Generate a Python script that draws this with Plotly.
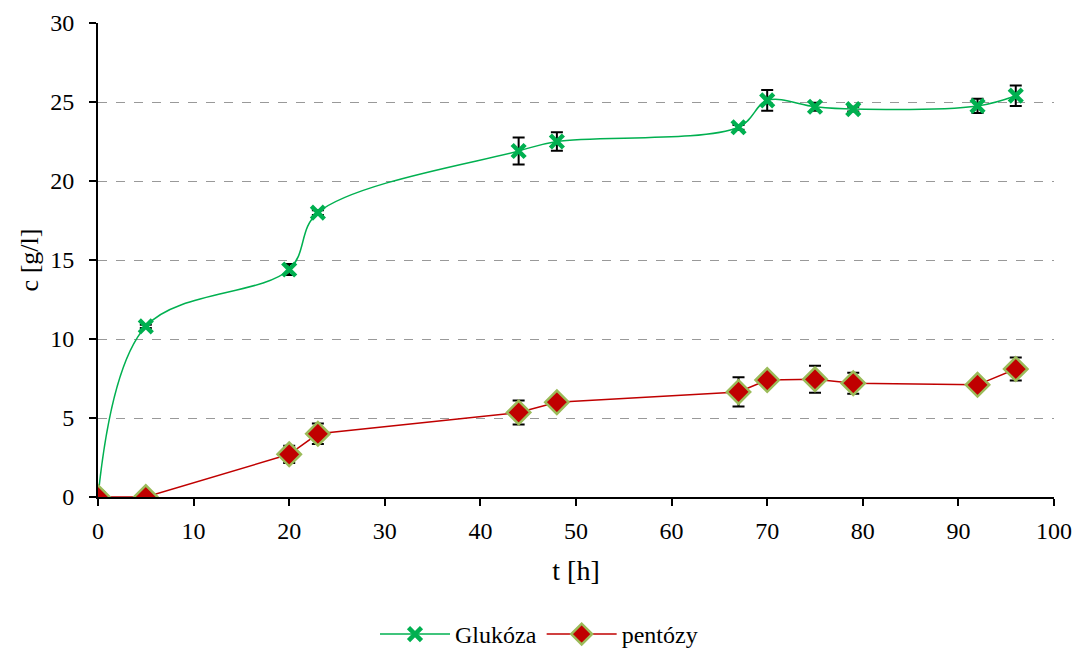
import plotly.graph_objects as go

# Sampling times [h]
t = [0, 5, 20, 23, 44, 48, 67, 70, 75, 79, 92, 96]

# Glucose concentration [g/l] and its standard deviation
glukoza = [0.0, 10.8, 14.4, 18.0, 21.9, 22.5, 23.4, 25.1, 24.7, 24.55, 24.75, 25.4]
glukoza_err = [0.0, 0.1, 0.35, 0.15, 0.85, 0.58, 0.15, 0.66, 0.25, 0.15, 0.45, 0.65]

# Pentose concentration [g/l] and its standard deviation
pentozy = [0.0, 0.0, 2.7, 4.0, 5.35, 6.0, 6.65, 7.4, 7.45, 7.2, 7.1, 8.1]
pentozy_err = [0.0, 0.0, 0.55, 0.65, 0.76, 0.2, 0.93, 0.1, 0.85, 0.66, 0.1, 0.73]

x_ticks = list(range(0, 101, 10))
y_ticks = list(range(0, 31, 5))

FONT = "'Liberation Serif', 'Times New Roman', 'DejaVu Serif', serif"

fig = go.Figure()

fig.add_trace(go.Scatter(
    x=t, y=glukoza, name="Glukóza",
    mode="lines+markers",
    line=dict(color="#00B050", width=1.5, shape="spline", smoothing=1.0),
    marker=dict(symbol="x-thin", size=13, color="#00B050",
                line=dict(color="#00B050", width=4.5)),
    error_y=dict(type="data", array=glukoza_err, visible=True,
                 color="black", thickness=2, width=6),
))

fig.add_trace(go.Scatter(
    x=t, y=pentozy, name="pentózy",
    mode="lines+markers",
    line=dict(color="#C00000", width=1.5),
    marker=dict(symbol="diamond", size=18, color="#C00000",
                line=dict(color="#9BBB59", width=2.5)),
    error_y=dict(type="data", array=pentozy_err, visible=True,
                 color="black", thickness=2, width=6),
))

fig.update_layout(
    width=1078, height=657,
    margin=dict(l=98, r=24, t=23, b=160, autoexpand=False),
    plot_bgcolor="white", paper_bgcolor="white",
    font=dict(family=FONT, size=24, color="black"),
    showlegend=True,
    legend=dict(orientation="h", xref="container", x=0.5, xanchor="center",
                yref="container", y=-0.012, yanchor="bottom",
                font=dict(family=FONT, size=24), itemwidth=70,
                traceorder="normal"),
)

fig.update_xaxes(
    range=[0, 100], tickvals=x_ticks, ticktext=[str(v) for v in x_ticks],
    showline=True, linecolor="black", linewidth=2,
    ticks="outside", ticklen=7, tickwidth=2, tickcolor="black",
    showgrid=False, zeroline=False, automargin=False,
    ticklabelstandoff=4,
    tickfont=dict(family=FONT, size=24),
    title=dict(text="t [h]", font=dict(family=FONT, size=28), standoff=18),
)

fig.update_yaxes(
    range=[0, 30], tickvals=y_ticks, ticktext=[str(v) for v in y_ticks],
    showline=True, linecolor="black", linewidth=2,
    ticks="outside", ticklen=7, tickwidth=2, tickcolor="black",
    showgrid=True, gridcolor="#999999", gridwidth=1, griddash="dash",
    zeroline=False, automargin=False,
    ticklabelstandoff=10,
    tickfont=dict(family=FONT, size=24),
    title=dict(text="c [g/l]", font=dict(family=FONT, size=26), standoff=4),
)

fig.write_html("out.html")
